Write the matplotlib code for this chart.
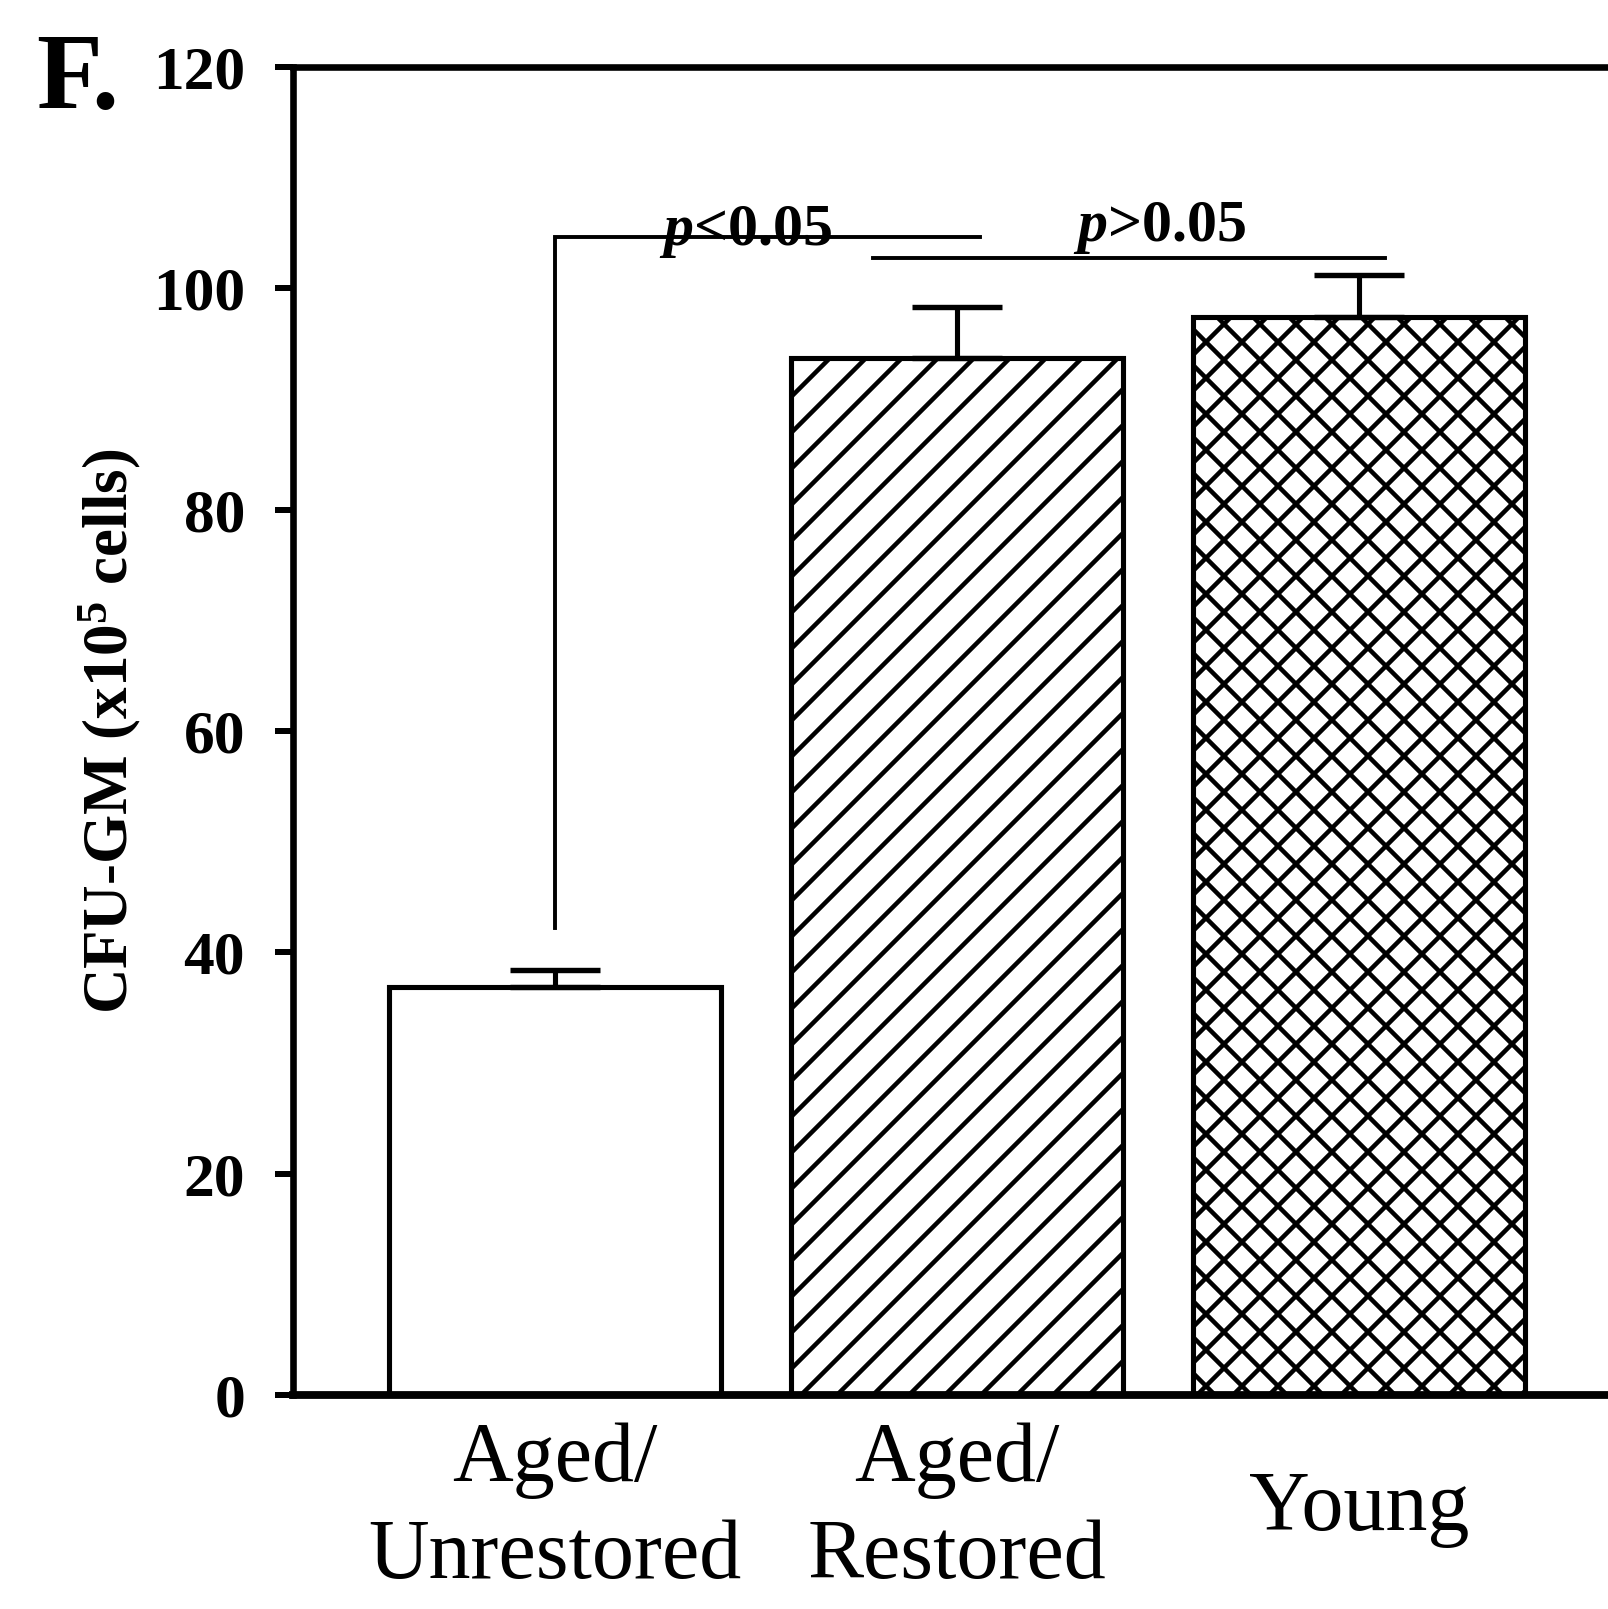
import numpy as np
import matplotlib
matplotlib.use("Agg")
import matplotlib.pyplot as plt

plt.rcParams['font.family'] = 'Liberation Serif'
plt.rcParams['mathtext.fontset'] = 'custom'
plt.rcParams['mathtext.rm'] = 'Liberation Serif:bold'
plt.rcParams['mathtext.bf'] = 'Liberation Serif:bold'
plt.rcParams['mathtext.it'] = 'Liberation Serif:italic:bold'
plt.rcParams['hatch.linewidth'] = 1.5

# data
groups = ["Aged/\nUnrestored", "Aged/\nRestored", "Young"]
means = [36.9, 93.7, 97.4]
err_up = [1.5, 4.6, 3.8]
hatches = ["", "//", "xx"]
yticks = [0, 20, 40, 60, 80, 100, 120]

# significance brackets: (x start, x end, y, label, label x, label y)
brackets = [
    (0.0, 1.057, 104.6, "$p$<0.05", 0.475, 103.9),
    (0.79, 2.065, 102.7, "$p$>0.05", 1.505, 104.3),
]
bracket_drop = 42.2  # bottom of the vertical stroke over the first bar

dpi = 216
fig = plt.figure(figsize=(1608 / dpi, 1609 / dpi), dpi=dpi)
ax = fig.add_axes([293 / 1608, 1 - 1395 / 1609, 1328 / 1608, 1328 / 1609])

x = np.arange(len(groups))
ax.bar(x, means, width=0.827, color='white', edgecolor='black',
       linewidth=1.7, hatch=hatches, zorder=2)
ax.errorbar(x, means, yerr=[np.zeros(len(means)), err_up], fmt='none',
            ecolor='black', elinewidth=1.7, capsize=15, capthick=1.8, zorder=3)

# brackets
x0, x1, yb, _, _, _ = brackets[0]
ax.plot([x0, x0, x1], [bracket_drop, yb, yb], color='black', lw=1.3,
        solid_joinstyle='miter', zorder=4)
x0, x1, yb, _, _, _ = brackets[1]
ax.plot([x0, x1], [yb, yb], color='black', lw=1.3, zorder=4)
for _, _, _, txt, tx, ty in brackets:
    ax.text(tx, ty, txt, ha='center', va='baseline', fontsize=20,
            fontweight='bold', zorder=5)

ax.set_xlim(-0.652, 2.652)
ax.set_ylim(0, 120)

ax.set_yticks(yticks)
ax.tick_params(axis='y', direction='out', length=6, width=2, pad=10,
               labelsize=20.5)
for t in ax.get_yticklabels():
    t.set_fontweight('bold')

ax.set_xticks(x)
ax.set_xticklabels(groups, fontsize=28, linespacing=1.33)
ax.tick_params(axis='x', length=0, pad=38)
for t in ax.get_xticklabels():
    t.set_va('center')
    t.set_multialignment('center')

ax.spines['right'].set_visible(False)
ax.spines['left'].set_linewidth(2.2)
ax.spines['top'].set_linewidth(2.2)
ax.spines['bottom'].set_linewidth(2.6)

ax.set_ylabel("CFU-GM (x10$^{\\mathbf{5}}$ cells)", fontsize=21,
              fontweight='bold')
ax.yaxis.set_label_coords((110 - 293) / 1328, 0.5)
ax.yaxis.label.set_va('center')

fig.text(36 / 1608, 1 - 108 / 1609, "F.", fontsize=36, fontweight='bold',
         ha='left', va='baseline')

fig.savefig("out.png", dpi=dpi)
